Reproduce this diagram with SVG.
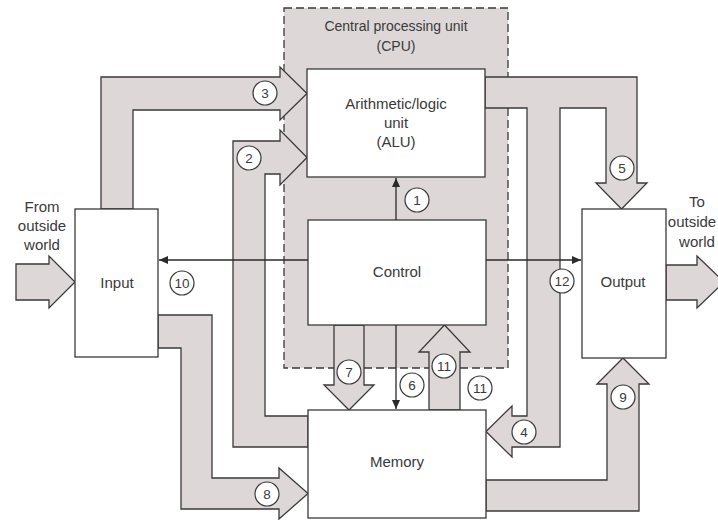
<svg xmlns="http://www.w3.org/2000/svg" width="718" height="520" viewBox="0 0 718 520">
<defs>
<style>
.pipe{fill:#ddd7d8;stroke:#3a3a3a;stroke-width:1.3;stroke-linejoin:miter}
.box{fill:#ffffff;stroke:#3a3a3a;stroke-width:1.3}
.cpu{fill:#ddd7d8;stroke:#3a3a3a;stroke-width:1.3;stroke-dasharray:8 4}
.ln{stroke:#2a2a2a;stroke-width:1.3;fill:none}
.lbl{fill:#ffffff;stroke:#3a3a3a;stroke-width:1.2}
text{font-family:"Liberation Sans","DejaVu Sans",Arial,sans-serif;fill:#3a3a3a;text-anchor:middle}
.t{font-size:15px}
.s{font-size:14px}
.n{font-size:13.5px}
</style>
<marker id="ah" markerUnits="userSpaceOnUse" markerWidth="10" markerHeight="8" refX="9" refY="4" orient="auto">
<path d="M0,0 L9,4 L0,8 Z" fill="#2a2a2a"/>
</marker>
</defs>
<rect width="718" height="520" fill="#ffffff"/>

<g id="cpu">
<rect class="cpu" x="284" y="8" width="224" height="360"/>
<text class="s" x="396" y="31">Central processing unit</text>
<text class="s" x="396" y="51">(CPU)</text>
</g>

<g id="connectors">
<polygon class="pipe" points="16,264 49,264 49,256 75,282 49,308 49,300 16,300"/>
<polygon class="pipe" points="666,265 697,265 697,256 724,282 697,308 697,300 666,300"/>
<polygon class="pipe" points="101,209 101,77 280,77 280,67 307,93.5 280,120 280,110 133,110 133,209"/>
<polygon class="pipe" points="308,447 233,447 233,141 280,141 280,130 307,157.5 280,185 280,174 265,174 265,416 308,416"/>
<polygon class="pipe" points="158,315 212,315 212,478 279,478 279,468 308,493.5 279,519 279,509 181,509 181,348 158,348"/>
<polygon class="pipe" points="485,77 637,77 637,183 647,183 621.5,209 596,183 606,183 606,108 560,108 560,447 512,447 512,457 486,431.5 512,406 512,416 527,416 527,108 485,108"/>
<polygon class="pipe" points="334,325 364,325 364,385 374,385 349,410 324,385 334,385"/>
<polygon class="pipe" points="429,410 429,352 419,352 444.5,325 470,352 460,352 460,410"/>
<polygon class="pipe" points="486,480 607,480 607,384 597,384 623,358 649,384 639,384 639,511 486,511"/>
</g>

<g id="alu">
<rect class="box" x="307" y="69" width="178" height="108"/>
<text class="t" x="396" y="109">Arithmetic/logic</text>
<text class="t" x="396" y="128">unit</text>
<text class="t" x="396" y="147">(ALU)</text>
</g>
<g id="control">
<rect class="box" x="308" y="220" width="178" height="105"/>
<text class="t" x="397" y="277">Control</text>
</g>
<g id="memory">
<rect class="box" x="308" y="410" width="178" height="108"/>
<text class="t" x="397" y="467">Memory</text>
</g>
<g id="input">
<rect class="box" x="75" y="209" width="83" height="148"/>
<text class="t" x="117" y="288">Input</text>
<text class="t" x="42" y="212">From</text>
<text class="t" x="42" y="231">outside</text>
<text class="t" x="42" y="250">world</text>
</g>
<g id="output">
<rect class="box" x="582" y="209" width="84" height="149"/>
<text class="t" x="623" y="287">Output</text>
<text class="t" x="697" y="207">To</text>
<text class="t" x="692" y="227">outside</text>
<text class="t" x="697" y="247">world</text>
</g>

<g id="control-lines">
<line class="ln" x1="396" y1="220" x2="396" y2="178" marker-end="url(#ah)"/>
<line class="ln" x1="396" y1="325" x2="396" y2="409" marker-end="url(#ah)"/>
<line class="ln" x1="308" y1="260" x2="159" y2="260" marker-end="url(#ah)"/>
<line class="ln" x1="486" y1="260" x2="581" y2="260" marker-end="url(#ah)"/>
</g>

<g id="labels">
<circle class="lbl" cx="417" cy="200" r="12"/><text class="n" x="417" y="204.5">1</text>
<circle class="lbl" cx="249" cy="158" r="12"/><text class="n" x="249" y="162.5">2</text>
<circle class="lbl" cx="265" cy="93" r="12"/><text class="n" x="265" y="97.5">3</text>
<circle class="lbl" cx="524" cy="432" r="12"/><text class="n" x="524" y="436.5">4</text>
<circle class="lbl" cx="622" cy="168" r="12"/><text class="n" x="622" y="172.5">5</text>
<circle class="lbl" cx="412" cy="385" r="12"/><text class="n" x="412" y="389.5">6</text>
<circle class="lbl" cx="349" cy="372" r="12"/><text class="n" x="349" y="376.5">7</text>
<circle class="lbl" cx="267" cy="494" r="12"/><text class="n" x="267" y="498.5">8</text>
<circle class="lbl" cx="623" cy="397" r="12"/><text class="n" x="623" y="401.5">9</text>
<circle class="lbl" cx="182" cy="283" r="12"/><text class="n" x="182" y="287.5">10</text>
<circle class="lbl" cx="444" cy="366" r="12"/><text class="n" x="444" y="370.5">11</text>
<circle class="lbl" cx="480" cy="388" r="12"/><text class="n" x="480" y="392.5">11</text>
<circle class="lbl" cx="562" cy="281" r="12"/><text class="n" x="562" y="285.5">12</text>
</g>
</svg>
